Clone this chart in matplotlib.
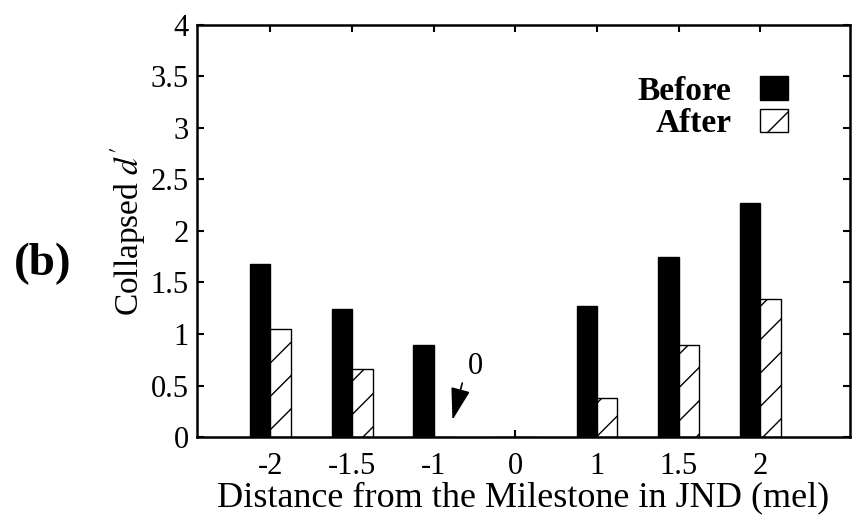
import matplotlib.pyplot as plt
import numpy as np

# data
labels = ['-2', '-1.5', '-1', '0', '1', '1.5', '2']
before = [1.68, 1.24, 0.89, 0.0, 1.27, 1.75, 2.27]
after = [1.05, 0.66, 0.0, 0.0, 0.38, 0.89, 1.34]

plt.rcParams['font.family'] = 'Liberation Serif'
plt.rcParams['mathtext.fontset'] = 'stix'
plt.rcParams['hatch.linewidth'] = 1.0

fig = plt.figure(figsize=(8.54, 5.31), dpi=100)
ax = fig.add_axes([0.2307, 0.177, 0.7646, 0.776])

x = np.arange(len(labels))
w = 0.25
ax.bar(x - w / 2, before, w, color='black', edgecolor='black', label='Before')
ax.bar(x + w / 2, after, w, color='white', edgecolor='black', linewidth=1.0,
       hatch='/', label='After')

ax.set_xlim(-0.9, 7.1)
ax.set_ylim(0, 4)
ax.set_xticks(x)
ax.set_xticklabels(labels)
ax.set_yticks(np.arange(0, 4.01, 0.5))
ax.set_yticklabels(['0', '0.5', '1', '1.5', '2', '2.5', '3', '3.5', '4'])
ax.tick_params(direction='in', top=True, right=True, length=5, width=1.5,
               labelsize=22, pad=6)
ax.tick_params(axis='x', pad=11)
for s in ax.spines.values():
    s.set_linewidth(1.8)

ax.set_xlabel('Distance from the Milestone in JND (mel)', fontsize=26, labelpad=0)
ax.set_ylabel(r"Collapsed $d'$", fontsize=24, labelpad=2)

# "0" marker for the empty bar
ax.text(2.51, 0.68, '0', fontsize=22, ha='center', va='center')
ax.annotate('', xy=(2.229, 0.165), xytext=(2.35, 0.524),
            arrowprops=dict(arrowstyle='-|>,head_length=1.0,head_width=0.3',
                            mutation_scale=20, color='black', lw=1.2,
                            shrinkA=0, shrinkB=0))

leg = ax.legend(loc='upper right', bbox_to_anchor=(0.905, 0.877),
                markerfirst=False, frameon=False, handlelength=0.85,
                handleheight=0.7, handletextpad=0.85, labelspacing=0.05,
                borderaxespad=0, borderpad=0, prop={'weight': 'bold', 'size': 24})

fig.text(0.05, 0.503, '(b)', fontsize=34, fontweight='bold',
         ha='center', va='center')

fig.savefig('out.png', dpi=100)
